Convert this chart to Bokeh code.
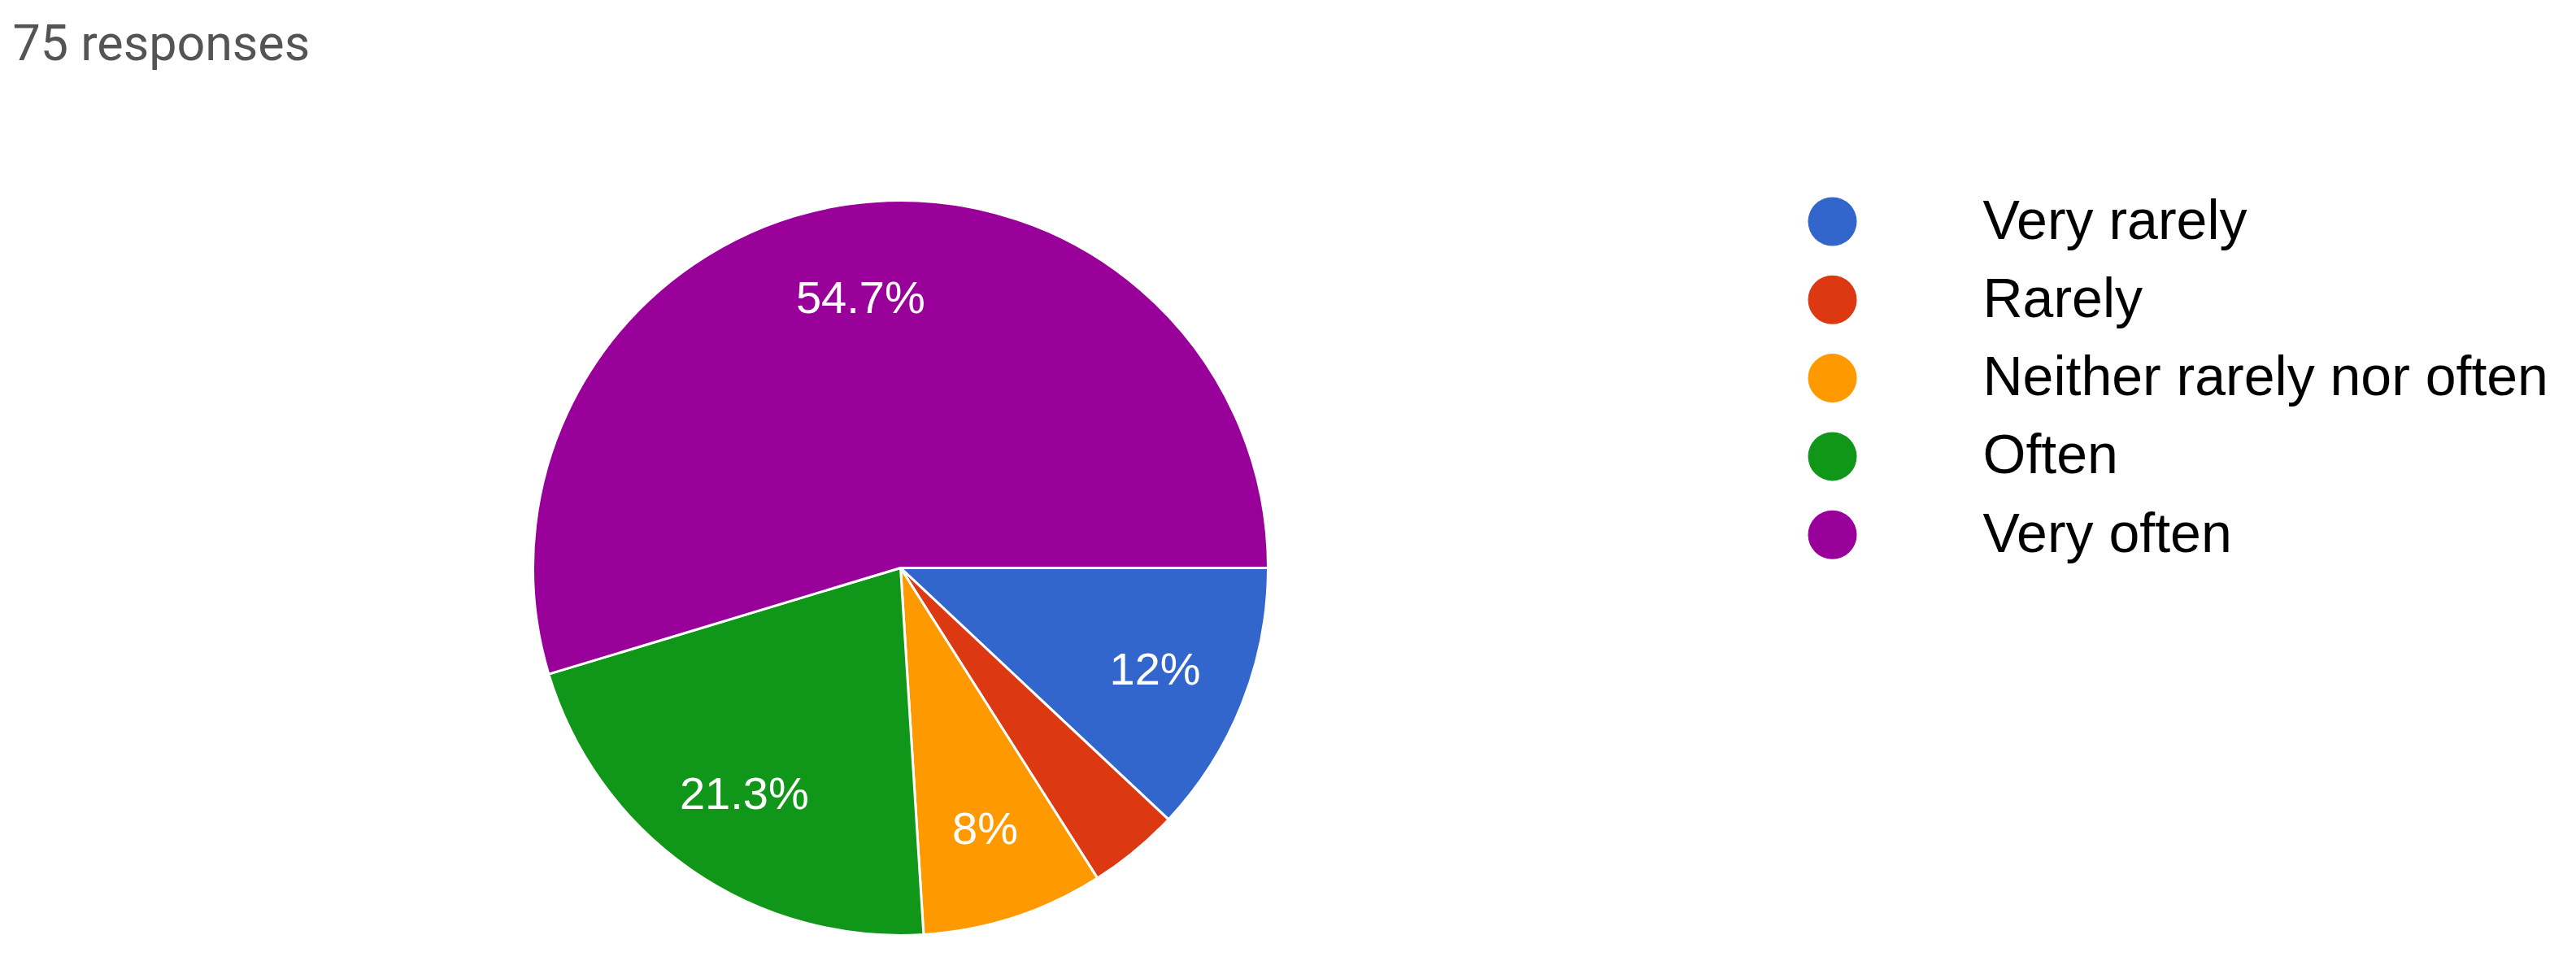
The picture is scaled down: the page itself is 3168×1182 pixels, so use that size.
import math
from bokeh.plotting import figure
from bokeh.models import Range1d, ColumnDataSource
from bokeh.core.properties import value
from bokeh.embed import file_html
from bokeh.resources import INLINE

# ---- data ----
categories = ["Very rarely", "Rarely", "Neither rarely nor often", "Often", "Very often"]
counts = [9, 3, 6, 16, 41]
colors = ["#3366CC", "#DC3912", "#FF9900", "#109618", "#990099"]
title_text = "75 responses"

# ---- layout constants (pixels in figure space) ----
W, H = 3152, 1166
CX, CY = 1107, H - 698
R = 452
LABEL_R = 0.745 * R
LEG_X = 2253
LEG_Y0 = H - 272
LEG_DY = 96.3
LEG_TX = 2438

total = sum(counts)
fracs = [c / total for c in counts]
starts, ends = [], []
acc = 0.0
for f in fracs:
    starts.append(-acc * 2 * math.pi)
    acc += f
    ends.append(-acc * 2 * math.pi)

p = figure(width=W, height=H, output_backend="svg", toolbar_location=None,
           x_range=Range1d(0, W), y_range=Range1d(0, H),
           min_border=0, min_border_left=0, min_border_right=0,
           min_border_top=0, min_border_bottom=0)
p.axis.visible = False
p.grid.visible = False
p.outline_line_color = None
p.background_fill_color = "white"

src = ColumnDataSource(dict(x=[CX] * len(counts), y=[CY] * len(counts),
                            start=starts, end=ends, color=colors))
p.wedge(x="x", y="y", radius=R, radius_units="screen", start_angle="start",
        end_angle="end", direction="clock", fill_color="color",
        line_color="white", line_width=3, source=src)

# slice labels
lx, ly, lt = [], [], []
for f, s, e in zip(fracs, starts, ends):
    pct = f * 100
    if pct < 5:
        continue
    mid = (s + e) / 2
    lx.append(CX + LABEL_R * math.cos(mid))
    ly.append(CY + LABEL_R * math.sin(mid))
    txt = f"{pct:.1f}".rstrip("0").rstrip(".") + "%"
    lt.append(txt)
p.text(x=lx, y=ly, text=lt, text_color="white", text_font=value("Liberation Sans"),
       text_font_size="56px", text_align="center", text_baseline="middle")

# legend
ly_leg = [LEG_Y0 - i * LEG_DY for i in range(len(categories))]
p.scatter(x=[LEG_X] * len(categories), y=ly_leg, size=60, marker="circle",
          fill_color=colors, line_color=None)
p.text(x=[LEG_TX] * len(categories), y=[v + 3 for v in ly_leg], text=categories,
       text_color="black", text_font=value("Liberation Sans"),
       text_font_size="68px", text_align="left", text_baseline="middle")

# title
p.text(x=[15], y=[H - 52], text=[title_text], text_color="#545454",
       text_font=value("Roboto"), text_font_size="61px",
       text_align="left", text_baseline="middle")

open("out.html", "w").write(file_html(p, INLINE))
